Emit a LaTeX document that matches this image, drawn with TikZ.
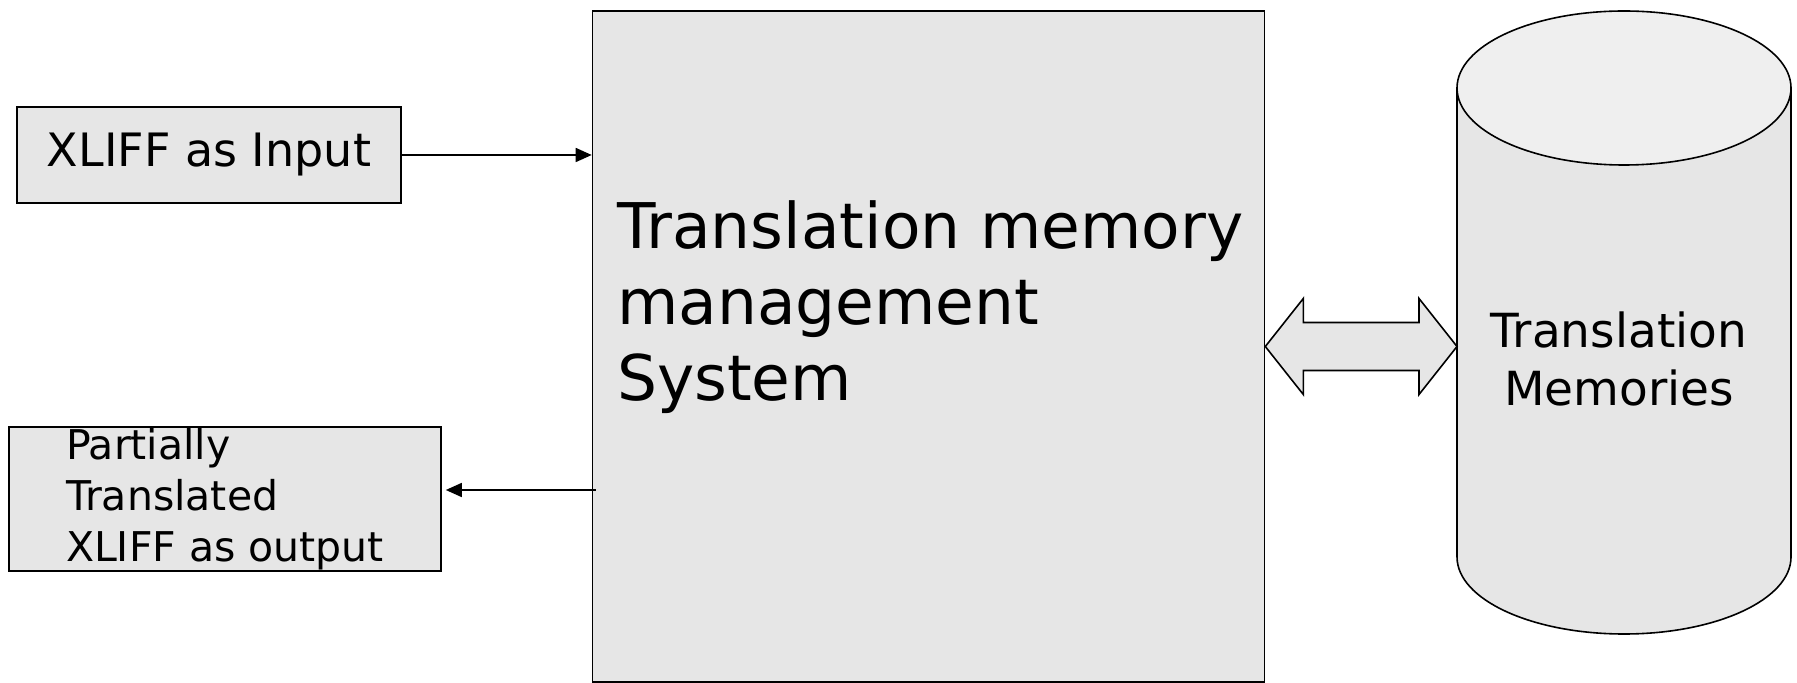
\documentclass[tikz,border=0pt]{standalone}
\usepackage{fontspec}
\setmainfont{DejaVu Sans}
\usetikzlibrary{arrows.meta,calc}
\definecolor{boxgray}{HTML}{E6E6E6}
\definecolor{capgray}{HTML}{EFEFEF}

\begin{document}
\begin{tikzpicture}[x=0.5pt,y=-0.5pt,
  blk/.style={draw=black, fill=boxgray, line width=0.8pt, inner sep=0pt},
  flow/.style={line width=0.8pt, -{Triangle[length=8pt,width=7pt]}},
  shell/.style={draw=black, line width=0.8pt, line join=miter},
]
\useasboundingbox (0,0) rectangle (1797,683);

% central management system
\node[blk, minimum width=336pt, minimum height=335.5pt] (tmms) at (928.5,346.5) {};
\node[anchor=north west, inner sep=0pt, align=left,
      font=\fontsize{31.5}{38}\selectfont] (tmmslabel)
      at ([shift={(12.5pt,-95pt)}]tmms.north west)
      {Translation memory\\management\\System};

% input and output files
\node[blk, minimum width=192pt, minimum height=48pt,
      font=\fontsize{23}{28}\selectfont] (xin) at (209,155) {XLIFF as Input};
\node[blk, minimum width=216pt, minimum height=72pt, align=left,
      font=\fontsize{20.5}{25.5}\selectfont] (xout) at (225,499)
      {Partially\\Translated\\XLIFF as output};

\draw[flow] (xin.east) -- (xin.east -| tmms.west);
\coordinate (outstart) at ($(tmms.west |- xout.east)+(2pt,4.5pt)$);
\draw[flow] (outstart) -- ($(xout.east)+(2pt,4.5pt)$);

% translation memory store (cylinder)
\node[minimum width=167pt, minimum height=311.5pt, inner sep=0pt, outer sep=0pt] (tm) at (1624,322.5) {};
\path[shell, fill=boxgray]
  ([yshift=-38.5pt]tm.north west) -- ([yshift=38.5pt]tm.south west)
  arc[start angle=180, end angle=360, x radius=83.5pt, y radius=38.5pt]
  -- ([yshift=-38.5pt]tm.north east) -- cycle;
\path[shell, fill=capgray] ([yshift=-38.5pt]tm.north) ellipse [x radius=83.5pt, y radius=38.5pt];
\node[align=center, inner sep=0pt, font=\fontsize{23.5}{29}\selectfont] (tmlabel)
  at ([shift={(-2.5pt,-18pt)}]tm.center) {Translation\\Memories};

% two-way block arrow between system and store
\coordinate (dl) at (tmms.east);
\coordinate (dr) at (tm.west |- tmms.east);
\path[shell, fill=boxgray]
  (dl) -- ([shift={(19pt,24pt)}]dl) -- ([shift={(19pt,12pt)}]dl)
  -- ([shift={(-19pt,12pt)}]dr) -- ([shift={(-19pt,24pt)}]dr)
  -- (dr)
  -- ([shift={(-19pt,-24pt)}]dr) -- ([shift={(-19pt,-12pt)}]dr)
  -- ([shift={(19pt,-12pt)}]dl) -- ([shift={(19pt,-24pt)}]dl) -- cycle;
\end{tikzpicture}
\end{document}
